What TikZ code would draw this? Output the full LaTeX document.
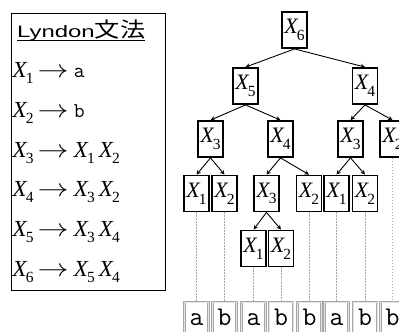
\documentclass[tikz,border=0pt]{standalone}
\usepackage{fontspec}
\usepackage{graphicx}
\usetikzlibrary{arrows.meta}
\newfontfamily\serif{Liberation Serif}
\newfontfamily\latinsans{Liberation Sans}
\newfontfamily\cjk{Noto Sans CJK JP}
% variable X with a subscript index
\newcommand\Xv[1]{{\serif\itshape X}\kern-0.8pt\raisebox{-0.3em}{\serif\fontsize{15.5}{15.5}\selectfont #1}}
\newcommand\rulearrow{\hspace{4pt}\scalebox{1.25}[1]{$\rightarrow$}\hspace{5pt}}
\newcommand\termsym[1]{{\ttfamily\fontsize{21}{21}\selectfont #1}}
\tikzset{
  x=1pt, y=-1pt,
  sym/.style={draw, line width=1.8pt, minimum width=25pt, minimum height=36pt,
    inner sep=0pt, font=\fontsize{22}{22}\selectfont},
  letter/.style={draw=gray!70, double=gray!20, double distance=0.7pt, line width=0.9pt,
    minimum width=24pt, minimum height=35pt, inner sep=0pt, anchor=north,
    text height=12pt, text depth=0pt,
    font=\ttfamily\fontsize{27}{27}\selectfont},
  rulerow/.style={anchor=base west, inner sep=0pt, font=\fontsize{23}{23}\selectfont},
  edge/.style={line width=0.9pt, -{Stealth[length=4.5pt,width=4.5pt]}},
  guide/.style={gray!70, line width=0.5pt, dash pattern=on 1.5pt off 1.5pt},
}
\begin{document}
\begin{tikzpicture}
\useasboundingbox (0,0) rectangle (399,332);
\clip (0,0) rectangle (399,332);

% grammar panel
\node[draw, line width=1.5pt, minimum width=154pt, minimum height=277pt, inner sep=0pt,
  anchor=north west] (panel) at (10.5,12.5) {};
\node[anchor=base west, inner sep=0pt] (title) at (17,37)
  {\latinsans\scalebox{1.45}[1]{\fontsize{16.5}{16.5}\selectfont Lyndon}\cjk\scalebox{1.2}[1]{\fontsize{21}{21}\selectfont 文法}};
\draw[line width=1.3pt] (title.base west) ++(0,3.5) coordinate (ul) -- (title.base east |- ul);
\node[rulerow] (r1) at (12.5,77)  {\Xv{1}\rulearrow\termsym{a}};
\node[rulerow] (r2) at (12.5,117) {\Xv{2}\rulearrow\termsym{b}};
\node[rulerow] (r3) at (12.5,157) {\Xv{3}\rulearrow\Xv{1}\hspace{4pt}\Xv{2}};
\node[rulerow] (r4) at (12.5,196) {\Xv{4}\rulearrow\Xv{3}\hspace{4pt}\Xv{2}};
\node[rulerow] (r5) at (12.5,236) {\Xv{5}\rulearrow\Xv{3}\hspace{4pt}\Xv{4}};
\node[rulerow] (r6) at (12.5,276) {\Xv{6}\rulearrow\Xv{5}\hspace{4pt}\Xv{4}};

% derivation tree
\node[sym] (n6)  at (294.5,30)  {\Xv{6}};
\node[sym] (n5)  at (245.5,86)  {\Xv{5}};
\node[sym] (n4r) at (365,86)    {\Xv{4}};
\node[sym] (n3a) at (210.5,139) {\Xv{3}};
\node[sym] (n4m) at (280.5,139) {\Xv{4}};
\node[sym] (n3r) at (350.5,139) {\Xv{3}};
\node[sym] (n2r) at (392.5,139) {\Xv{2}};
\node[sym] (n1a) at (196.5,193.5) {\Xv{1}};
\node[sym] (n2a) at (224.5,193.5) {\Xv{2}};
\node[sym] (n3m) at (266.5,193.5) {\Xv{3}};
\node[sym] (n2m) at (309,193.5)   {\Xv{2}};
\node[sym] (n1r) at (336.5,193.5) {\Xv{1}};
\node[sym] (n2s) at (365,193.5)   {\Xv{2}};
\node[sym] (n1m) at (253.5,248.5) {\Xv{1}};
\node[sym] (n2n) at (281,248.5)   {\Xv{2}};

\foreach \p/\c in {n6/n5, n6/n4r, n5/n3a, n5/n4m, n4r/n3r, n4r/n2r,
                   n3a/n1a, n3a/n2a, n4m/n3m, n4m/n2m, n3r/n1r, n3r/n2s,
                   n3m/n1m, n3m/n2n}
  \draw[edge] (\p.south) -- (\c.north);

% the string
\node[letter] (s1) at (196.5,301.5) {a};
\node[letter] (s2) at (224.5,301.5) {b};
\node[letter] (s3) at (253.5,301.5) {a};
\node[letter] (s4) at (281,301.5)   {b};
\node[letter] (s5) at (309.5,301.5) {b};
\node[letter] (s6) at (336.5,301.5) {a};
\node[letter] (s7) at (365,301.5)   {b};
\node[letter] (s8) at (392.5,301.5) {b};

\foreach \l/\s in {n1a/s1, n2a/s2, n1m/s3, n2n/s4, n2m/s5, n1r/s6, n2s/s7, n2r/s8}
  \draw[guide] (\l.south) -- (\l.south |- \s.north);
\end{tikzpicture}
\end{document}
